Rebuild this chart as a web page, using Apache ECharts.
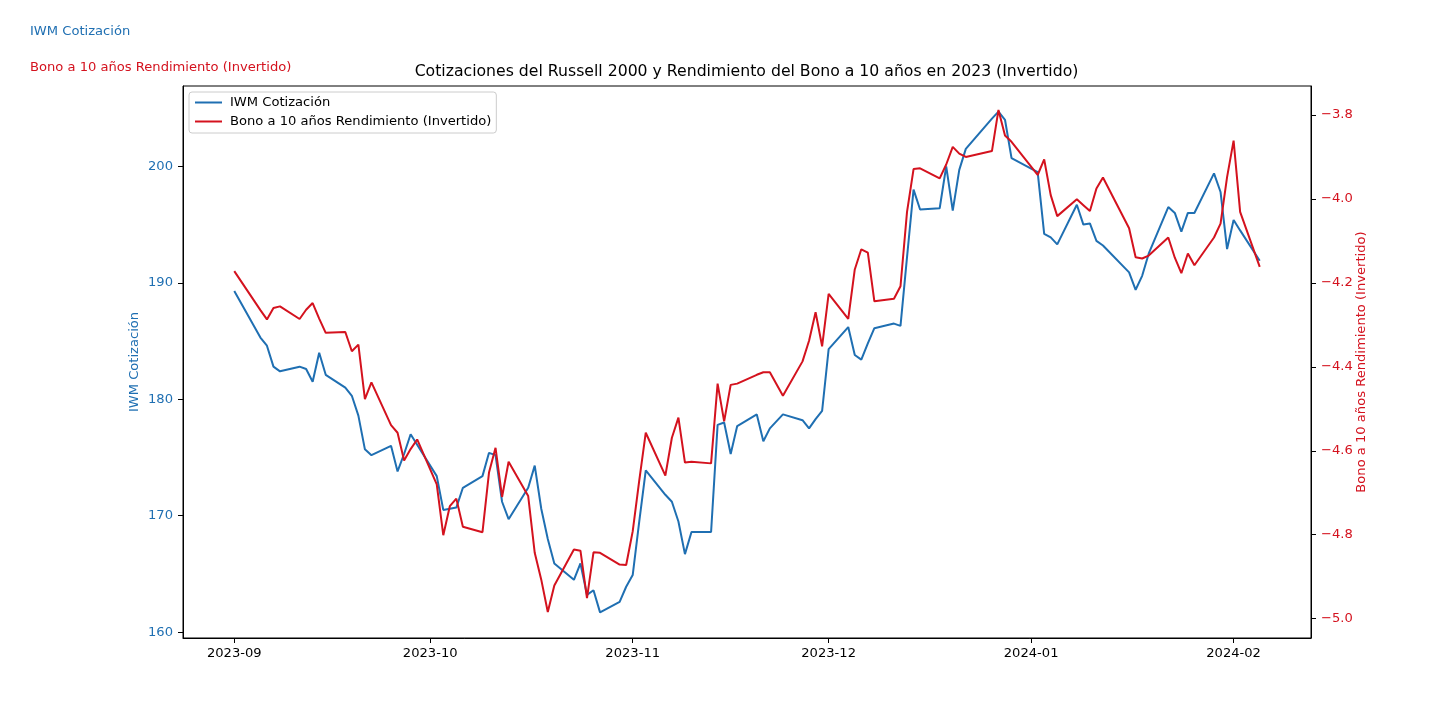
<!DOCTYPE html>
<html>
<head>
<meta charset="utf-8">
<script src="https://cdn.jsdelivr.net/npm/echarts@6/dist/echarts.min.js"></script>
<style>
html,body{margin:0;padding:0;background:#fff;}
#chart{width:1456px;height:715px;}
</style>
</head>
<body>
<div id="chart"></div>
<script>
// ---- data ----
const dates = [
'2023-09-01','2023-09-05','2023-09-06','2023-09-07','2023-09-08','2023-09-11','2023-09-12','2023-09-13','2023-09-14','2023-09-15',
'2023-09-18','2023-09-19','2023-09-20','2023-09-21','2023-09-22','2023-09-25','2023-09-26','2023-09-27','2023-09-28','2023-09-29',
'2023-10-02','2023-10-03','2023-10-04','2023-10-05','2023-10-06','2023-10-09','2023-10-10','2023-10-11','2023-10-12','2023-10-13',
'2023-10-16','2023-10-17','2023-10-18','2023-10-19','2023-10-20','2023-10-23','2023-10-24','2023-10-25','2023-10-26','2023-10-27',
'2023-10-30','2023-10-31','2023-11-01','2023-11-02','2023-11-03','2023-11-06','2023-11-07','2023-11-08','2023-11-09','2023-11-10',
'2023-11-13','2023-11-14','2023-11-15','2023-11-16','2023-11-17','2023-11-20','2023-11-21','2023-11-22','2023-11-24','2023-11-27',
'2023-11-28','2023-11-29','2023-11-30','2023-12-01','2023-12-04','2023-12-05','2023-12-06','2023-12-07','2023-12-08','2023-12-11',
'2023-12-12','2023-12-13','2023-12-14','2023-12-15','2023-12-18','2023-12-19','2023-12-20','2023-12-21','2023-12-22','2023-12-26',
'2023-12-27','2023-12-28','2023-12-29','2024-01-02','2024-01-03','2024-01-04','2024-01-05','2024-01-08','2024-01-09','2024-01-10',
'2024-01-11','2024-01-12','2024-01-16','2024-01-17','2024-01-18','2024-01-19','2024-01-22','2024-01-23','2024-01-24','2024-01-25',
'2024-01-26','2024-01-29','2024-01-30','2024-01-31','2024-02-01','2024-02-02','2024-02-05'
];
const iwmPrice = [
189.3,185.3,184.6,182.8,182.4,182.8,182.6,181.5,184.0,182.1,
181.0,180.3,178.6,175.7,175.2,176.0,173.8,175.3,177.0,176.1,
173.4,170.5,170.6,170.7,172.4,173.4,175.4,175.2,171.2,169.7,
172.4,174.3,170.6,168.0,165.9,164.5,165.9,163.2,163.6,161.7,
162.6,163.9,164.9,169.5,173.9,171.8,171.2,169.5,166.7,168.6,
168.6,177.8,178.0,175.3,177.7,178.7,176.4,177.5,178.7,178.2,
177.5,178.3,179.0,184.3,186.2,183.8,183.4,184.8,186.1,186.5,
186.3,192.2,198.0,196.3,196.4,200.0,196.2,199.7,201.5,204.1,
204.7,204.0,200.7,199.5,194.2,193.9,193.3,196.7,195.0,195.1,
193.6,193.2,190.9,189.4,190.6,192.5,196.5,196.0,194.4,196.0,
196.0,199.4,197.8,192.9,195.4,194.5,191.9
];
const bondYieldInverted = [
-4.172,-4.265,-4.287,-4.260,-4.256,-4.286,-4.264,-4.248,-4.285,-4.319,
-4.317,-4.363,-4.347,-4.477,-4.437,-4.539,-4.557,-4.623,-4.596,-4.573,
-4.680,-4.801,-4.732,-4.714,-4.781,-4.794,-4.652,-4.593,-4.710,-4.626,
-4.708,-4.843,-4.907,-4.984,-4.921,-4.835,-4.838,-4.951,-4.842,-4.843,
-4.871,-4.872,-4.792,-4.671,-4.557,-4.659,-4.569,-4.521,-4.628,-4.626,
-4.630,-4.440,-4.530,-4.443,-4.440,-4.419,-4.413,-4.413,-4.469,-4.387,
-4.338,-4.270,-4.351,-4.226,-4.286,-4.168,-4.120,-4.128,-4.244,-4.238,
-4.208,-4.031,-3.929,-3.927,-3.951,-3.918,-3.876,-3.892,-3.900,-3.886,
-3.788,-3.849,-3.864,-3.943,-3.906,-3.991,-4.041,-4.001,-4.015,-4.029,
-3.975,-3.949,-4.070,-4.139,-4.142,-4.135,-4.092,-4.140,-4.177,-4.130,
-4.158,-4.092,-4.059,-3.948,-3.861,-4.031,-4.162
];
const monthTicks = ['2023-09-01','2023-10-01','2023-11-01','2023-12-01','2024-01-01','2024-02-01'];
const leftTicks = [160,170,180,190,200];
const rightTicks = [-5.0,-4.8,-4.6,-4.4,-4.2,-4.0,-3.8];
const nameIWM = 'IWM Cotización';
const nameBond = 'Bono a 10 años Rendimiento (Invertido)';
const titleText = 'Cotizaciones del Russell 2000 y Rendimiento del Bono a 10 años en 2023 (Invertido)';

// ---- helpers ----
function ts(s){ const p=s.split('-').map(Number); return Date.UTC(p[0],p[1]-1,p[2]); }
const DAY = 86400000;
const xMin = ts(dates[0]) - 7.85*DAY;
const xMax = ts(dates[dates.length-1]) + 7.85*DAY;
const BLUE = '#1f6fb2';
const RED = '#d4121e';
const FONT = "'DejaVu Sans', sans-serif";
const FS = 13.1;

const chart = echarts.init(document.getElementById('chart'), null, {renderer:'canvas'});
chart.setOption({
  animation:false,
  backgroundColor:'#ffffff',
  textStyle:{fontFamily:FONT},
  grid:{left:183,right:145,top:86,bottom:77,show:true,borderColor:'#000',borderWidth:1,backgroundColor:'transparent',containLabel:false,outerBoundsMode:'none'},
  graphic:[
    {type:'text',x:746.5,y:72,style:{text:titleText,fill:'#000',font:"15.7px 'DejaVu Sans'",textAlign:'center',textVerticalAlign:'middle'}},
    {type:'text',x:30,y:32,style:{text:nameIWM,fill:BLUE,font:FS+"px 'DejaVu Sans'",textAlign:'left',textVerticalAlign:'middle'}},
    {type:'text',x:30,y:68,style:{text:nameBond,fill:RED,font:FS+"px 'DejaVu Sans'",textAlign:'left',textVerticalAlign:'middle'}}
  ],
  legend:{
    orient:'vertical',left:189,top:92,
    data:[nameIWM,nameBond],
    icon:'rect',itemWidth:27,itemHeight:2,itemGap:6,
    padding:[4,5,5,6],
    borderColor:'#cccccc',borderWidth:1,borderRadius:3,
    backgroundColor:'rgba(255,255,255,0.8)',
    textStyle:{fontFamily:FONT,fontSize:FS,color:'#000',padding:[0,0,0,3]}
  },
  xAxis:{
    type:'value',min:xMin,max:xMax,scale:true,
    axisLine:{show:true,onZero:false,lineStyle:{color:'#000',width:1}},
    axisTick:{show:true,length:5,lineStyle:{color:'#000',width:1},customValues:monthTicks.map(ts)},
    axisLabel:{color:'#000',fontFamily:FONT,fontSize:FS,margin:9,customValues:monthTicks.map(ts),
      formatter:function(v){const d=new Date(v);return d.getUTCFullYear()+'-'+String(d.getUTCMonth()+1).padStart(2,'0');}},
    splitLine:{show:false},minorTick:{show:false}
  },
  yAxis:[
    {type:'value',position:'left',min:159.5,max:206.9,
      name:nameIWM,nameLocation:'middle',nameGap:42,nameRotate:90,nameMoveOverlap:false,
      nameTextStyle:{color:BLUE,fontFamily:FONT,fontSize:FS},
      axisLine:{show:true,onZero:false,lineStyle:{color:'#000',width:1}},
      axisTick:{show:true,length:5,lineStyle:{color:'#000',width:1},customValues:leftTicks},
      axisLabel:{color:BLUE,fontFamily:FONT,fontSize:FS,margin:10,customValues:leftTicks,formatter:function(v){return String(Math.round(v));}},
      splitLine:{show:false}},
    {type:'value',position:'right',min:-5.046,max:-3.731,
      name:nameBond,nameLocation:'middle',nameGap:44,nameRotate:90,nameMoveOverlap:false,
      nameTextStyle:{color:RED,fontFamily:FONT,fontSize:FS},
      axisLine:{show:true,onZero:false,lineStyle:{color:'#000',width:1}},
      axisTick:{show:true,length:5,lineStyle:{color:'#000',width:1},customValues:rightTicks},
      axisLabel:{color:RED,fontFamily:FONT,fontSize:FS,margin:10,customValues:rightTicks,formatter:function(v){return v.toFixed(1).replace('-','\u2212');}},
      splitLine:{show:false}}
  ],
  series:[
    {name:nameIWM,type:'line',yAxisIndex:0,showSymbol:false,symbol:'none',color:BLUE,
      lineStyle:{color:BLUE,width:2},itemStyle:{color:BLUE},z:2,
      data:dates.map((d,i)=>[ts(d),iwmPrice[i]])},
    {name:nameBond,type:'line',yAxisIndex:1,showSymbol:false,symbol:'none',color:RED,
      lineStyle:{color:RED,width:2},itemStyle:{color:RED},z:3,
      data:dates.map((d,i)=>[ts(d),bondYieldInverted[i]])}
  ]
});
</script>
</body>
</html>
